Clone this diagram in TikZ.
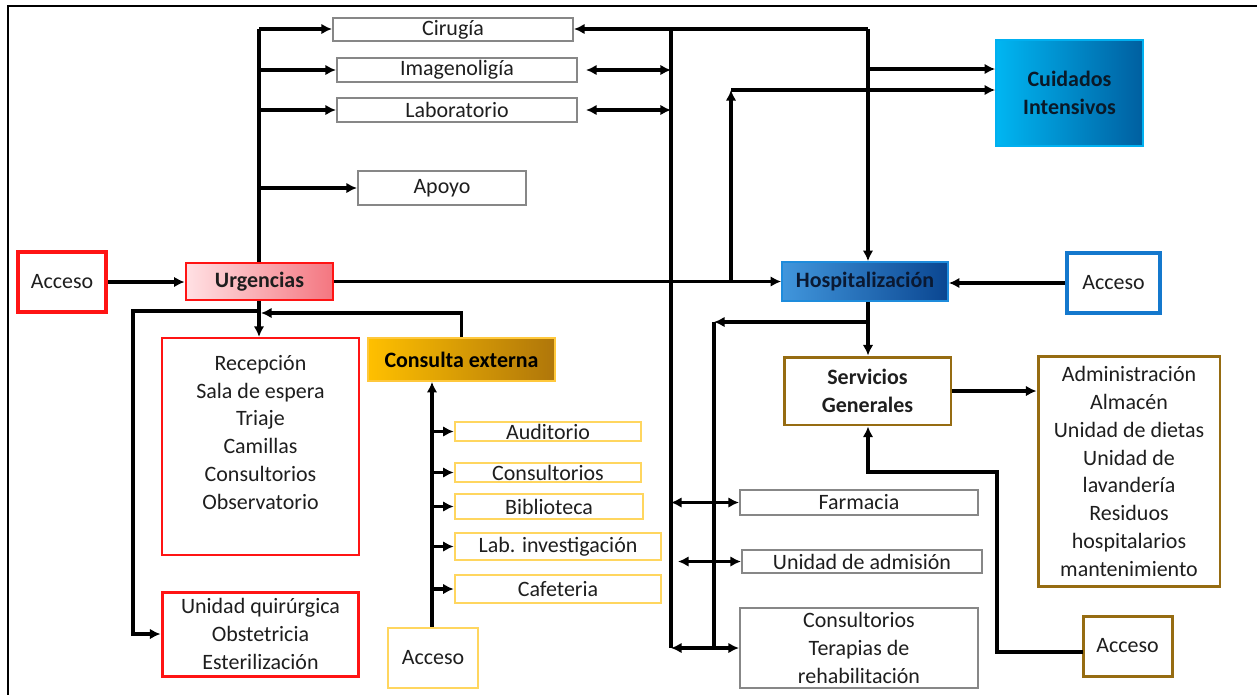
\documentclass[tikz,border=0pt]{standalone}
\usepackage{fontspec}
\setmainfont{Carlito}
\usetikzlibrary{arrows.meta}
\definecolor{redb}{RGB}{255,20,20}
\definecolor{grayb}{RGB}{135,135,135}
\definecolor{yelb}{RGB}{255,214,95}
\definecolor{brownb}{RGB}{150,108,18}
\definecolor{blueb}{RGB}{20,120,205}
\definecolor{txt}{RGB}{30,30,30}
\tikzset{
  base/.style={inner sep=0pt, align=center, text=txt, font=\fontsize{12.5}{15.8}\selectfont},
  gbox/.style={base, draw=grayb, line width=1.2pt},
  ybox/.style={base, draw=yelb, line width=1.5pt},
  rbox/.style={base, draw=redb, line width=1.3pt},
  bbox/.style={base, draw=brownb, line width=1.7pt},
  ln/.style={line width=1.9pt, black},
  conn/.style={ln, -{Latex[length=6pt,width=6pt]}},
  dbl/.style={ln, {Latex[length=6pt,width=6pt]}-{Latex[length=6pt,width=6pt]}}
}
\begin{document}
\begin{tikzpicture}[x=0.02cm,y=-0.02cm]
\useasboundingbox (0,0) rectangle (1257,694);
\draw[line width=1pt] (8,700) -- (8,6) -- (1262,6);

% top gray boxes
\node[gbox, minimum width=4.8cm, minimum height=0.46cm] (cir) at (453,29.5) {Cirugía};
\node[gbox, minimum width=4.8cm, minimum height=0.48cm] (ima) at (457,70) {Imagenoligía};
\node[gbox, minimum width=4.8cm, minimum height=0.48cm] (lab) at (457,110) {Laboratorio};
\node[gbox, minimum width=3.36cm, minimum height=0.68cm] (apo) at (442,188) {Apoyo};

% Cuidados intensivos
\node[base, draw={rgb,255:red,0;green,176;blue,240}, line width=1pt, left color={rgb,255:red,0;green,182;blue,242}, right color={rgb,255:red,0;green,95;blue,160}, minimum width=2.94cm, minimum height=2.12cm, font=\fontsize{12.5}{15.8}\selectfont\bfseries, text={rgb,255:red,10;green,25;blue,40}] (cui) at (1069.5,93) {Cuidados\\Intensivos};

% row
\node[base, draw=redb, line width=2.4pt, minimum width=1.76cm, minimum height=1.2cm] (accL) at (62,282) {Acceso};
\node[base, draw=redb, line width=1.6pt, left color={rgb,255:red,255;green,225;blue,228}, right color={rgb,255:red,244;green,118;blue,128}, minimum width=2.94cm, minimum height=0.74cm, font=\fontsize{12.5}{15.8}\selectfont\bfseries] (urg) at (259.5,281.5) {Urgencias};
\node[base, draw={rgb,255:red,30;green,140;blue,220}, line width=1pt, left color={rgb,255:red,65;green,150;blue,220}, right color={rgb,255:red,10;green,70;blue,145}, minimum width=3.32cm, minimum height=0.78cm, font=\fontsize{12.5}{15.8}\selectfont\bfseries, text={rgb,255:red,10;green,25;blue,50}] (hosp) at (865,281.5) {Hospitalización};
\node[base, draw=blueb, line width=1.8pt, minimum width=1.86cm, minimum height=1.2cm] (accR) at (1113.5,283) {Acceso};

% Urgencias sub boxes
\node[rbox, minimum width=3.94cm, minimum height=4.34cm] (rec) at (260.5,446.5) {};
\node[base, anchor=north] (recT) at (260.5,355) {Recepción\\Sala de espera\\Triaje\\Camillas\\Consultorios\\Observatorio};
\node[rbox, line width=1.7pt, minimum width=3.94cm, minimum height=1.68cm] (uq) at (260.5,634) {Unidad quirúrgica\\Obstetricia\\Esterilización};

% Consulta externa
\node[base, draw={rgb,255:red,255;green,200;blue,60}, line width=1pt, left color={rgb,255:red,255;green,192;blue,0}, right color={rgb,255:red,175;green,118;blue,10}, minimum width=3.74cm, minimum height=0.86cm, font=\fontsize{12.5}{15.8}\selectfont\bfseries, text=black] (ce) at (461.5,359.5) {Consulta externa};
\node[ybox, minimum width=1.8cm, minimum height=1.2cm] (accY) at (433,658) {Acceso};
\node[ybox, minimum width=3.72cm, minimum height=0.38cm] (aud) at (548,431.5) {Auditorio};
\node[ybox, minimum width=3.72cm, minimum height=0.38cm] (cons) at (548,472.5) {Consultorios};
\node[ybox, minimum width=3.76cm, minimum height=0.5cm] (bib) at (549,506.5) {Biblioteca};
\node[ybox, minimum width=4.12cm, minimum height=0.54cm] (labi) at (558,546.5) {Lab. investigación};
\node[ybox, minimum width=4.12cm, minimum height=0.56cm] (caf) at (558,589) {Cafeteria};

% Servicios generales
\node[bbox, minimum width=3.34cm, minimum height=1.36cm, font=\fontsize{12.5}{15.8}\selectfont\bfseries] (sg) at (867.5,391) {Servicios\\Generales};
\node[bbox, minimum width=3.64cm, minimum height=4.62cm] (adm) at (1129,471.5) {Administración\\Almacén\\Unidad de dietas\\Unidad de\\lavandería\\Residuos\\hospitalarios\\mantenimiento};
\node[bbox, minimum width=1.78cm, minimum height=1.2cm] (accB) at (1127.5,646) {Acceso};
\node[gbox, minimum width=4.76cm, minimum height=0.5cm] (far) at (859,502.5) {Farmacia};
\node[gbox, minimum width=4.8cm, minimum height=0.46cm] (ua) at (862,561.5) {Unidad de admisión};
\node[gbox, minimum width=4.76cm, minimum height=1.6cm] (ter) at (859,648) {Consultorios\\Terapias de\\rehabilitación};

% coordinates
\coordinate (tl) at (259,29);
\coordinate (lj) at (259,311);
\coordinate (lc) at (133,311);
\coordinate (cj) at (261,313);
\coordinate (tr) at (671,29);
\coordinate (trb) at (671,648);
\coordinate (hr) at (868,29);
\coordinate (hc) at (868,69);
\coordinate (uc) at (731,90);
\coordinate (ub) at (731,282);
\coordinate (hb) at (868,322);
\coordinate (hb2) at (714,322);
\coordinate (hb3) at (714,648);
\coordinate (b1) at (1083,652);
\coordinate (b2) at (997,652);
\coordinate (b3) at (997,472);
\coordinate (b4) at (868,472);
\coordinate (yv) at (432,0);

% left connectors
\draw[conn] (accL.east) -- (accL.east -| urg.west);
\draw[conn] (urg.east) -- (urg.east -| hosp.west);
\draw[ln] (urg.north -| tl) -- (tl);
\draw[conn] (tl) -- (tl -| cir.west);
\draw[conn] (ima.west -| tl) -- (ima.west);
\draw[conn] (lab.west -| tl) -- (lab.west);
\draw[conn] (apo.west -| tl) -- (apo.west);
\draw[conn] (urg.south -| tl) -- (tl |- rec.north);
\draw[conn] (lj) -- (lc) |- (uq.west);
\draw[conn] (ce.north) |- (cj);

% consulta externa connectors
\draw[conn] (accY.north -| yv) -- (ce.south -| yv);
\draw[conn] (aud.west -| yv) -- (aud.west);
\draw[conn] (cons.west -| yv) -- (cons.west);
\draw[conn] (bib.west -| yv) -- (bib.west);
\draw[conn] (labi.west -| yv) -- (labi.west);
\draw[conn] (caf.west -| yv) -- (caf.west);

% right trunk
\draw[ln] (tr) -- (trb);
\draw[conn] (hr) -- (hr -| cir.east);
\draw[conn] (hr) -- (hr |- hosp.north);
\draw[dbl, shorten <=0.16cm] (ima.east) -- (ima.east -| tr);
\draw[dbl, shorten <=0.16cm] (lab.east) -- (lab.east -| tr);
\draw[conn] (hc) -- (hc -| cui.west);
\draw[conn] (ub) -- (uc);
\draw[conn] (uc) -- (uc -| cui.west);
\draw[conn] (accR.west) -- (accR.west -| hosp.east);

% hospitalizacion lower
\draw[conn] (hosp.south -| hr) -- (hr |- sg.north);
\draw[conn] (hb) -- (hb2);
\draw[ln] (hb2) -- (hb3);
\draw[dbl] (far.west -| tr) -- (far.west);
\draw[dbl, shorten <=0.14cm] (ua.west -| tr) -- (ua.west);
\draw[dbl] (ter.west -| tr) -- (ter.west);
\draw[conn] (sg.east) -- (sg.east -| adm.west);
\draw[conn] (b1) -- (b2) -- (b3) -- (b4) -- (sg.south -| b4);
\end{tikzpicture}
\end{document}
